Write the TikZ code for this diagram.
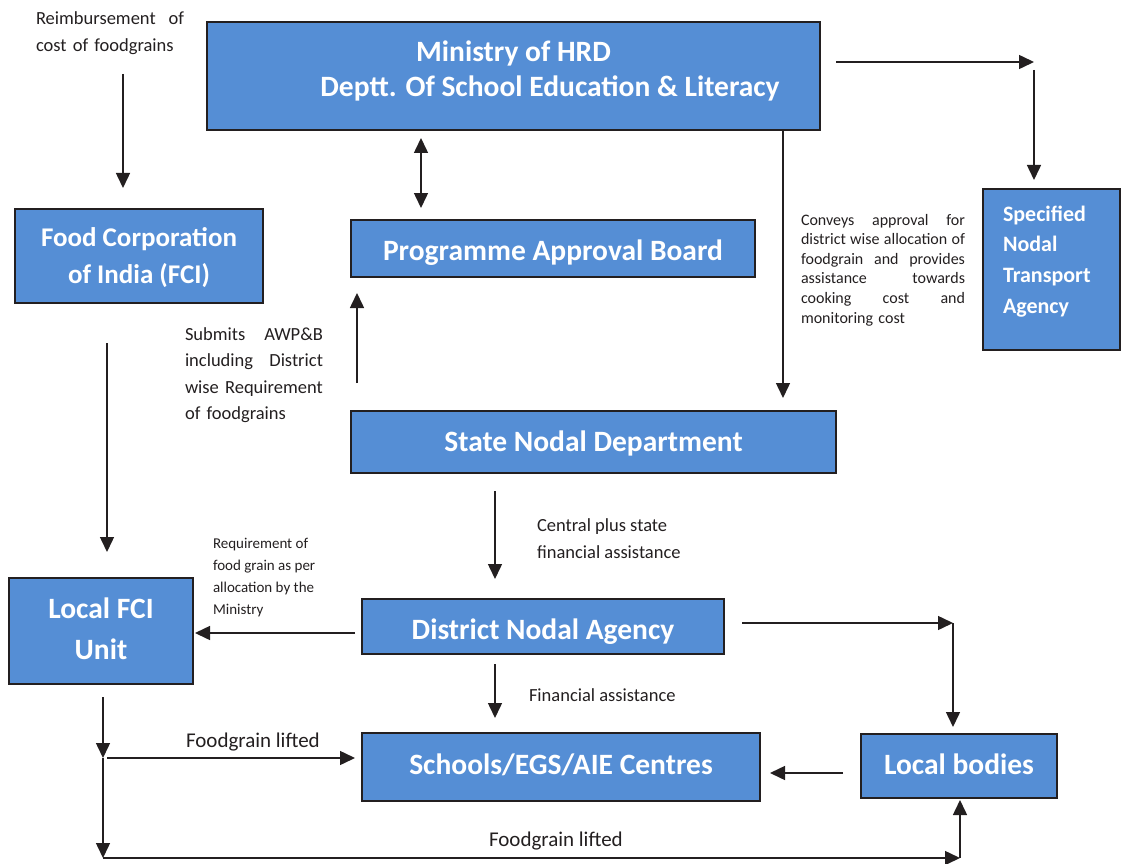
\documentclass[tikz,border=0pt]{standalone}
\usepackage{fontspec}
\setmainfont{Carlito}
\usetikzlibrary{arrows.meta}
\definecolor{boxblue}{RGB}{85,142,213}
\definecolor{boxline}{RGB}{35,31,32}
\definecolor{ink}{RGB}{35,31,32}
\tikzset{
  box/.style={draw=boxline, line width=1.6pt, fill=boxblue, text=white, inner sep=0pt, outer sep=0pt,
    font=\bfseries\fontsize{29.5}{35}\selectfont, align=center},
  arr/.style={draw=ink, line width=1.5pt, -{Triangle[length=15pt,width=14pt]}},
  lbl/.style={text=ink, inner sep=0pt, outer sep=0pt, anchor=north west},
  lblm/.style={lbl, font=\fontsize{18.5}{26.5}\selectfont},
  lbls/.style={lbl, font=\fontsize{16}{19.6}\selectfont},
  lbll/.style={lbl, font=\fontsize{21}{25}\selectfont}
}
\newcommand{\boxtext}[2]{\raisebox{-#1}[0pt][0pt]{#2}}
\begin{document}
\begin{tikzpicture}[x=1pt,y=-1pt]
\useasboundingbox (0,0) rectangle (1122,864);
% boxes
\node[box, minimum width=613pt, minimum height=108pt] (mhrd) at (513.5,76)
  {\boxtext{20.5pt}{\parbox[b]{600pt}{\centering Ministry of HRD\\\hspace*{73pt}Deptt. Of School Education \& Literacy}}};
\node[box, minimum width=248pt, minimum height=94pt, font=\bfseries\fontsize{27}{37}\selectfont] (fci) at (139,256)
  {\boxtext{27pt}{\parbox[b]{240pt}{\centering Food Corporation\\of India (FCI)}}};
\node[box, minimum width=404pt, minimum height=57pt] (pab) at (553,248.5) {\boxtext{11.5pt}{Programme Approval Board}};
\node[box, minimum width=137pt, minimum height=161pt, font=\bfseries\fontsize{22}{30.7}\selectfont] (snta) at (1051.5,269.5)
  {\boxtext{43.8pt}{\parbox[b]{97pt}{\raggedright Specified\\Nodal\\Transport\\Agency}}};
\node[box, minimum width=485pt, minimum height=62pt] (snd) at (593.5,442) {\boxtext{9pt}{State Nodal Department}};
\node[box, minimum width=362pt, minimum height=55pt] (dna) at (543,626.5) {\boxtext{12.5pt}{District Nodal Agency}};
\node[box, minimum width=184pt, minimum height=106pt, font=\bfseries\fontsize{29.5}{41}\selectfont] (lfci) at (101,631)
  {\boxtext{28pt}{\parbox[b]{170pt}{\centering Local FCI\\Unit}}};
\node[box, minimum width=398pt, minimum height=68pt] (sch) at (561,767) {\boxtext{7pt}{Schools/EGS/AIE Centres}};
\node[box, minimum width=196pt, minimum height=64pt] (lb) at (959,766) {\boxtext{8pt}{Local bodies}};
% labels
\node[lblm, text width=148pt, align=left] (treimb) at (36,12) {Reimbursement\hfill of\\cost of foodgrains};
\node[lbls, text width=164pt, align=left] (tconv) at (801,214)
  {Conveys\hfill approval\hfill for\\district\hfill wise\hfill allocation\hfill of\\foodgrain\hfill and\hfill provides\\assistance\hfill towards\\cooking\hfill cost\hfill and\\monitoring cost};
\node[lblm, text width=138pt, align=left] (tsub) at (185,327.5) {Submits\hfill AWP\&B\\including\hfill District\\wise Requirement\\of foodgrains};
\node[lblm, align=left] (tcent) at (537,519) {Central plus state\\financial assistance};
\node[lbls, font=\fontsize{15}{22}\selectfont, align=left] (treq) at (213,538.5) {Requirement of\\food grain as per\\allocation by the\\Ministry};
\node[lblm] (tfin) at (529,689) {Financial assistance};
\node[lbll] (tfl1) at (186,733) {Foodgrain lifted};
\node[lbll] (tfl2) at (489,832) {Foodgrain lifted};
% coordinates
\coordinate (r1) at (123,74);   \coordinate (r2) at (123,188);
\coordinate (t1) at (836,62);   \coordinate (t2) at (1034,62);
\coordinate (t3) at (1034,70);  \coordinate (t4) at (1034,180);
\coordinate (d1) at (421,138);  \coordinate (d2) at (421,208);
\coordinate (v1) at (783,130);  \coordinate (v2) at (783,398);
\coordinate (u1) at (357,383);  \coordinate (u2) at (357,293);
\coordinate (f1) at (107,343);  \coordinate (f2) at (107,552);
\coordinate (s1) at (495,491);  \coordinate (s2) at (495,579);
\coordinate (a1) at (355,633);  \coordinate (a2) at (195,633);
\coordinate (b1) at (742,623);  \coordinate (b2) at (953,623);
\coordinate (b3) at (953,727);
\coordinate (c1) at (495,664);  \coordinate (c2) at (495,718);
\coordinate (l1) at (103,697);  \coordinate (l2) at (103,758);
\coordinate (l3) at (103,858);  \coordinate (h1) at (107,758);
\coordinate (h2) at (355,758);  \coordinate (g2) at (960,858);
\coordinate (g3) at (960,800);
\coordinate (k1) at (843,773);  \coordinate (k2) at (770,773);
% arrows
\draw[arr] (r1) -- (r2);
\draw[arr] (t1) -- (t2);
\draw[arr] (t3) -- (t4);
\draw[draw=ink, line width=1.5pt, {Triangle[length=15pt,width=14pt]}-{Triangle[length=15pt,width=14pt]}] (d1) -- (d2);
\draw[arr] (v1) -- (v2);
\draw[arr] (u1) -- (u2);
\draw[arr] (f1) -- (f2);
\draw[arr] (s1) -- (s2);
\draw[arr] (a1) -- (a2);
\draw[arr] (b1) -- (b2);
\draw[arr] (b2) -- (b3);
\draw[arr] (c1) -- (c2);
\draw[arr] (l1) -- (l2);
\draw[arr] (l2) -- (l3);
\draw[arr] (h1) -- (h2);
\draw[arr] (l3) -- (g2);
\draw[arr] (g2) -- (g3);
\draw[arr] (k1) -- (k2);
\end{tikzpicture}
\end{document}
